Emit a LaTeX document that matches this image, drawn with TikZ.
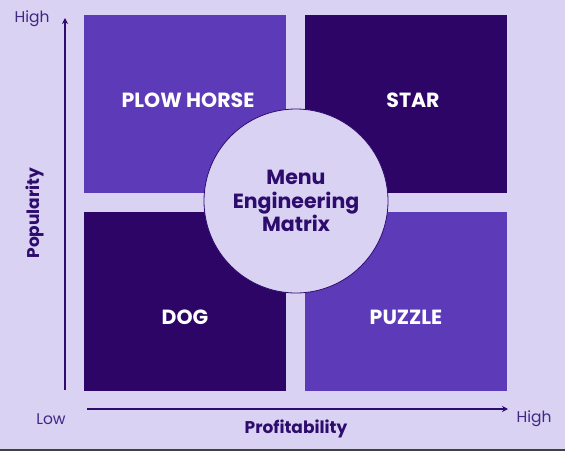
\documentclass[tikz,border=0pt]{standalone}
\usepackage{fontspec}
\setmainfont{Poppins}
\usepackage{tikz}
\usetikzlibrary{
  positioning,
  arrows.meta, shapes.geometric
}
\definecolor{bglav}{RGB}{217,210,243}
\definecolor{midpurple}{RGB}{92,58,184}
\definecolor{deeppurple}{RGB}{44,5,103}
\definecolor{inkpurple}{RGB}{46,12,110}
\definecolor{softink}{RGB}{62,40,130}

\begin{document}
\begin{tikzpicture}[x=1pt,y=1pt,
    quad/.style={rectangle,minimum width=202pt,minimum height=178pt,inner sep=0pt},
    quadtext/.style={text=white,font=\fontsize{20.5}{24}\selectfont\bfseries},
    axislabel/.style={text=inkpurple,font=\fontsize{17}{20}\selectfont\bfseries},
    endlabel/.style={text=softink,font=\fontsize{15.5}{18}\selectfont},
    axisline/.style={draw=inkpurple,line width=1.4pt,-{Stealth[length=6pt,width=6pt]}}]
      \useasboundingbox (0,0) rectangle (565,451);
      \fill[bglav] (0,0) rectangle (565,451);
      \fill[black!75] (0,0) rectangle (565,2);
      % the four quadrants
      \node at (185,347) [quad,fill=midpurple] (ph) {};
      \node at (406,347) [quad,fill=deeppurple] (st) {};
      \node at (185,150) [quad,fill=deeppurple,minimum height=179pt] (dg) {};
      \node at (406,150) [quad,fill=midpurple,minimum height=179pt] (pz) {};
      \node at (188,351) [quadtext] (phtext) {PLOW HORSE};
      \node at (413,351) [quadtext] (sttext) {STAR};
      \node at (185,134) [quadtext] (dgtext) {DOG};
      \node at (406,134) [quadtext] (pztext) {PUZZLE};
      % centre circle
      \node at (296,250) [circle,draw=inkpurple,line width=0.8pt,fill=bglav,minimum size=184pt,align=center,
        text=inkpurple,font=\fontsize{20.5}{23.5}\selectfont\bfseries] (mem) {Menu\\Engineering\\Matrix};
      % axes
      \coordinate (yfoot) at (65,61);
      \coordinate (ytop) at (65,433);
      \coordinate (xfoot) at (87,42);
      \coordinate (xend) at (508,42);
      \draw[axisline] (yfoot) -- (ytop);
      \draw[axisline] (xfoot) -- (xend);
      \node at (32,432) [endlabel] (yhigh) {High};
      \node at (51,32) [endlabel] (xlow) {Low};
      \node at (534,32) [endlabel] (xhigh) {High};
      \node at (296,22) [axislabel] (prof) {Profitability};
      \node at (35,238) [axislabel,rotate=90] (pop) {Popularity};
  \end{tikzpicture}
\end{document}
